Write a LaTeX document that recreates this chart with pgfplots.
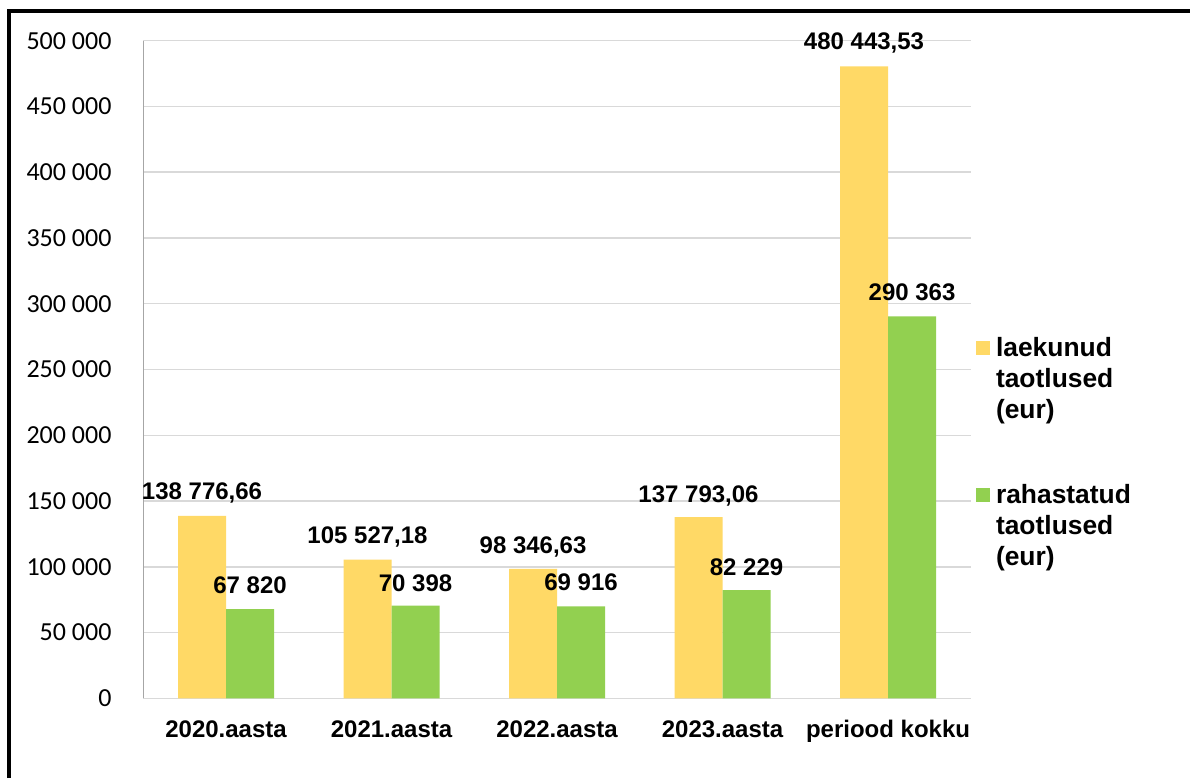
\documentclass[border=0pt]{standalone}
\usepackage{pgfplots}
\pgfplotsset{compat=1.18}
\usepackage{fontspec}
\setmainfont{Liberation Sans}
\newfontfamily\carlito{Carlito}
\definecolor{cyellow}{HTML}{FFD966}
\definecolor{cgreen}{HTML}{92D050}
\definecolor{cgrid}{HTML}{D9D9D9}
\definecolor{caxis}{HTML}{A6A6A6}
\pgfplotsset{sqlegend/.style={legend image code/.code={\fill[##1] (0pt,-4pt) rectangle (7pt,3pt);}}}
\newcommand{\lbl}{\bfseries\fontsize{12}{14}\selectfont}
\newcommand{\legtxt}[2]{\fontsize{13.2}{15.5}\selectfont\bfseries\begin{tabular}[t]{@{}l@{}}#1\\taotlused\\(eur)\end{tabular}}
\begin{document}
\begin{tikzpicture}
\useasboundingbox (0,0) rectangle (595pt,389pt);
\fill[white] (0,0) rectangle (595pt,389pt);
\draw[line width=1.75pt] (4.5pt,0) -- (4.5pt,383.5pt) -- (595pt,383.5pt);
\begin{axis}[
  at={(71.65pt,39.85pt)}, anchor=south west,
  scale only axis, width=413.75pt, height=328.8pt,
  ybar=0pt, bar width=24pt,
  xmin=-0.5, xmax=4.5, ymin=0, ymax=500000,
  xtick={0,1,2,3,4},
  xticklabels={2020.aasta,2021.aasta,2022.aasta,2023.aasta,periood kokku},
  ytick={0,50000,100000,150000,200000,250000,300000,350000,400000,450000,500000},
  yticklabels={0,50 000,100 000,150 000,200 000,250 000,300 000,350 000,400 000,450 000,500 000},
  major tick length=0pt,
  axis lines*=left,
  x axis line style={draw=cgrid, line width=0.75pt},
  y axis line style={draw=caxis, line width=0.75pt},
  ymajorgrids, grid style={draw=cgrid, line width=0.75pt},
  xticklabel style={font=\lbl, anchor=north, inner sep=0pt, yshift=-10.85pt},
  yticklabel style={font=\carlito\fontsize{13}{15}\selectfont, anchor=east, inner sep=0pt, xshift=-15.7pt},
  scaled y ticks=false,
  legend style={at={(1.0063,0.5525)}, anchor=north west, draw=none, fill=none,
    inner sep=0pt, outer sep=0pt, row sep=60.9pt, column sep=3pt,
    nodes={inner sep=0pt, outer sep=0pt}},
  legend cell align=left,
  clip=false,
]
\addplot[fill=cyellow, draw=none, sqlegend] coordinates {(0,138776.66) (1,105527.18) (2,98346.63) (3,137793.06) (4,480443.53)};
\addlegendentry{\legtxt{laekunud}{}}
\addplot[fill=cgreen, draw=none, sqlegend] coordinates {(0,67820) (1,70398) (2,69916) (3,82229) (4,290363)};
\addlegendentry{\legtxt{rahastatud}{}}
% data labels
\node[font=\lbl, anchor=base, xshift=-12pt] at (axis cs:0,151528) {138 776,66};
\node[font=\lbl, anchor=base, xshift=12pt] at (axis cs:0,80060) {67 820};
\node[font=\lbl, anchor=base, xshift=-12pt] at (axis cs:1,118075) {105 527,18};
\node[font=\lbl, anchor=base, xshift=12pt] at (axis cs:1,81580) {70 398};
\node[font=\lbl, anchor=base, xshift=-12pt] at (axis cs:2,110472) {98 346,63};
\node[font=\lbl, anchor=base, xshift=12pt] at (axis cs:2,81808) {69 916};
\node[font=\lbl, anchor=base, xshift=-12pt] at (axis cs:3,149247) {137 793,06};
\node[font=\lbl, anchor=base, xshift=12pt] at (axis cs:3,93745) {82 229};
\node[font=\lbl, anchor=base, xshift=-12pt] at (axis cs:4,493435) {480 443,53};
\node[font=\lbl, anchor=base, xshift=12pt] at (axis cs:4,302828) {290 363};
\end{axis}
\end{tikzpicture}
\end{document}
